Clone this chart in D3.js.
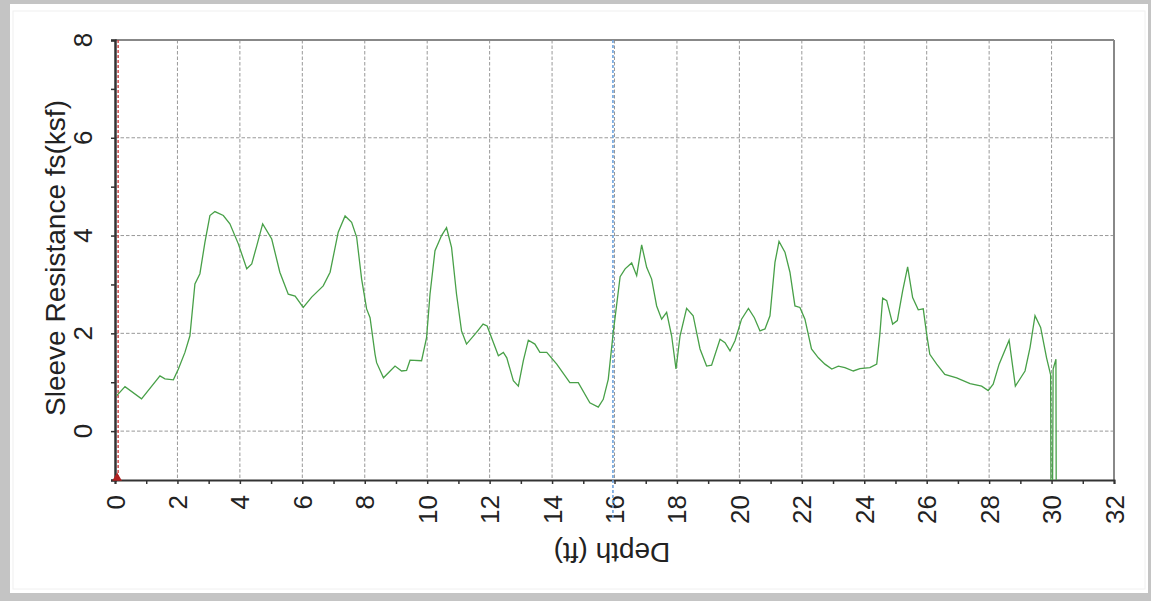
<!DOCTYPE html>
<html><head><meta charset="utf-8">
<script src="https://cdn.jsdelivr.net/npm/d3@7"></script>
<style>
html,body{margin:0;padding:0;background:#c4c4c4;}
svg{display:block;font-family:"Liberation Sans",Arial,sans-serif;}
</style></head><body>
<svg id="c" width="1151" height="601"></svg>
<script>
const depth = [0.05,0.32,0.85,1.44,1.6,1.87,2.03,2.24,2.4,2.56,2.72,2.88,3.04,3.2,3.47,3.68,3.95,4.22,4.38,4.54,4.73,5.02,5.28,5.55,5.77,6.03,6.30,6.67,6.89,7.15,7.37,7.58,7.74,7.90,8.06,8.17,8.33,8.38,8.6,8.97,9.18,9.34,9.45,9.82,9.98,10.09,10.25,10.46,10.62,10.78,10.94,11.1,11.26,11.58,11.79,11.92,12.28,12.44,12.55,12.76,12.92,13.08,13.24,13.45,13.61,13.83,14.15,14.57,14.84,15.21,15.48,15.64,15.80,15.96,16.18,16.34,16.55,16.71,16.87,17.03,17.19,17.35,17.51,17.67,17.83,17.97,18.1,18.31,18.52,18.74,18.95,19.11,19.38,19.54,19.7,19.86,20.07,20.29,20.48,20.66,20.82,20.98,21.14,21.27,21.46,21.62,21.78,21.94,22.1,22.31,22.53,22.74,22.96,23.17,23.38,23.65,23.86,24.18,24.4,24.5,24.59,24.72,24.91,25.06,25.23,25.39,25.55,25.73,25.89,26.0,26.1,26.32,26.58,26.96,27.39,27.76,27.97,28.13,28.32,28.64,28.84,29.15,29.31,29.47,29.65,29.84,29.97,29.98,30.03,30.05,30.14,30.15];
const fs = [0.72,0.91,0.66,1.13,1.07,1.05,1.27,1.61,1.95,3.01,3.22,3.86,4.41,4.49,4.41,4.24,3.83,3.32,3.42,3.79,4.24,3.93,3.25,2.80,2.76,2.53,2.74,2.97,3.25,4.07,4.40,4.27,3.97,3.11,2.50,2.32,1.57,1.40,1.09,1.33,1.23,1.24,1.45,1.44,1.91,2.80,3.69,4.0,4.16,3.76,2.80,2.05,1.78,2.02,2.19,2.15,1.54,1.61,1.50,1.03,0.92,1.44,1.86,1.78,1.61,1.61,1.37,0.99,0.99,0.58,0.49,0.65,1.06,2.02,3.16,3.32,3.44,3.18,3.81,3.35,3.11,2.56,2.29,2.43,1.95,1.27,1.95,2.51,2.36,1.68,1.33,1.35,1.88,1.81,1.64,1.85,2.29,2.51,2.32,2.05,2.09,2.36,3.45,3.88,3.66,3.25,2.56,2.53,2.29,1.68,1.50,1.37,1.27,1.33,1.30,1.23,1.28,1.30,1.37,1.98,2.72,2.67,2.19,2.26,2.87,3.36,2.73,2.48,2.50,1.98,1.57,1.37,1.16,1.09,0.97,0.92,0.83,0.96,1.37,1.86,0.92,1.23,1.71,2.36,2.12,1.50,1.15,-1.5,-1.5,1.27,1.47,-1.5];
const xTicks = [0,2,4,6,8,10,12,14,16,18,20,22,24,26,28,30,32];
const yTicks = [0,2,4,6,8];
const xDomain = [0,32];
const yDomain = [-1,8];
const startMarker = 0.1;
const cursorDepth = 15.95;
const xTitle = "Depth (ft)";
const yTitle = "Sleeve Resistance fs(ksf)";

const svg = d3.select("#c");
// panel
svg.append("rect").attr("x",10).attr("y",4).attr("width",1138).attr("height",589).attr("fill","#fff");
svg.append("rect").attr("x",13).attr("y",11).attr("width",1132).attr("height",578).attr("fill","none").attr("stroke","#f0f0f0");

const L=115,R=1114,T=40,B=480;
const x = d3.scaleLinear().domain(xDomain).range([L,R]);
const y = d3.scaleLinear().domain(yDomain).range([B,T]);

svg.append("defs").append("clipPath").attr("id","clip").append("rect")
  .attr("x",L).attr("y",T).attr("width",R-L).attr("height",B-T);

// grid
const g = svg.append("g");
g.selectAll(".vg").data(xTicks.filter(d=>d>0&&d<32)).join("line")
  .attr("x1",d=>x(d)).attr("x2",d=>x(d)).attr("y1",T).attr("y2",B)
  .attr("stroke","#999").attr("stroke-width",1).attr("stroke-dasharray","3.5,2");
g.selectAll(".hg").data(yTicks.filter(d=>d<8)).join("line")
  .attr("x1",L).attr("x2",R).attr("y1",d=>y(d)).attr("y2",d=>y(d))
  .attr("stroke","#999").attr("stroke-width",1).attr("stroke-dasharray","3.5,2");

// frame top/right
svg.append("line").attr("x1",L).attr("x2",R).attr("y1",T).attr("y2",T).attr("stroke","#888").attr("stroke-width",2);
svg.append("line").attr("x1",R).attr("x2",R).attr("y1",T).attr("y2",B).attr("stroke","#888").attr("stroke-width",2);

// axes
const xAxis = d3.axisBottom(x).tickValues(d3.range(0,33,1)).tickSize(4).tickFormat("");
const xa = svg.append("g").attr("transform",`translate(0,${B})`).call(xAxis);
xa.select(".domain").attr("stroke","#333").attr("stroke-width",2);
xa.selectAll(".tick line").attr("stroke","#333").attr("stroke-width",1.5);
const yAxis = d3.axisLeft(y).tickValues(d3.range(-1,9,1)).tickSize(4).tickFormat("");
const ya = svg.append("g").attr("transform",`translate(${L},0)`).call(yAxis);
ya.select(".domain").attr("stroke","#333").attr("stroke-width",2.5);
ya.selectAll(".tick line").attr("stroke","#333").attr("stroke-width",1.5);

// tick labels
svg.selectAll(".xl").data(xTicks).join("text")
  .attr("transform",d=>`translate(${x(d)+9.5},495) rotate(-90)`)
  .attr("text-anchor","end").attr("font-size",26).attr("fill","#222").text(d=>d);
svg.selectAll(".yl").data(yTicks).join("text")
  .attr("transform",d=>`translate(92,${y(d)}) rotate(-90)`)
  .attr("text-anchor","middle").attr("font-size",26).attr("fill","#222").text(d=>d);

// titles
svg.append("text").attr("transform","translate(65,258) rotate(-90)").attr("text-anchor","middle")
  .attr("font-size",28).attr("fill","#222").text(yTitle);
svg.append("text").attr("transform","translate(612,543) rotate(180)").attr("text-anchor","middle")
  .attr("font-size",28).attr("fill","#222").text(xTitle);

// cursor lines
svg.append("line").attr("x1",x(startMarker)).attr("x2",x(startMarker)).attr("y1",T).attr("y2",B)
  .attr("stroke","#d04040").attr("stroke-width",1.4).attr("stroke-dasharray","3,2");
svg.append("path").attr("d",d3.symbol(d3.symbolTriangle,40)()).attr("transform",`translate(${x(startMarker)-1},${B-2})`).attr("fill","#b02020");
svg.append("line").attr("x1",x(cursorDepth)).attr("x2",x(cursorDepth)).attr("y1",T).attr("y2",518)
  .attr("stroke","#6fa3dc").attr("stroke-width",1.6).attr("stroke-dasharray","3,2");

// data line
const pts = depth.map((d,i)=>[d,fs[i]]);
svg.append("path").datum(pts).attr("clip-path","url(#clip)")
  .attr("d",d3.line().x(d=>x(d[0])).y(d=>y(d[1])))
  .attr("fill","none").attr("stroke","#48a048").attr("stroke-width",1.3);
</script></body></html>
